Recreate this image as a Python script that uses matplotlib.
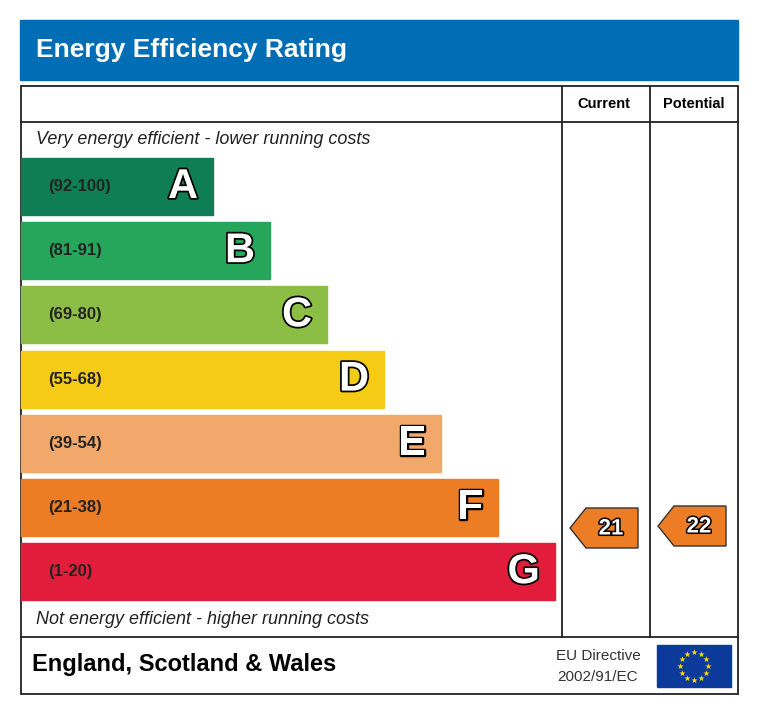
import numpy as np
import matplotlib
matplotlib.use("Agg")
import matplotlib.pyplot as plt
from matplotlib.patches import Rectangle, Polygon
import matplotlib.patheffects as pe

# band data
letters = ["A", "B", "C", "D", "E", "F", "G"]
ranges = ["(92-100)", "(81-91)", "(69-80)", "(55-68)", "(39-54)", "(21-38)", "(1-20)"]
band_lo = [92, 81, 69, 55, 39, 21, 1]
colors = ["#0f7e56", "#26a65b", "#8cbd45", "#f5cb16", "#f2a86a", "#ec7d25", "#e21d3c"]
current = 21
potential = 22

fig = plt.figure(figsize=(7.6, 7.15), dpi=100)
ax = fig.add_axes([0, 0, 1, 1])
ax.set_xlim(0, 760)
ax.set_ylim(715, 0)
ax.axis("off")

# title bar
ax.add_patch(Rectangle((20, 20), 718, 60, color="#006db5"))
ax.text(36, 50, "Energy Efficiency Rating", color="white", fontsize=19,
        fontweight="bold", va="center", family="Liberation Sans")

# frame
lw = 1.3
ax.add_patch(Rectangle((21, 86), 717, 608, fill=False, lw=lw, ec="#222"))
ax.plot([21, 738], [122, 122], color="#222", lw=lw)
ax.plot([21, 738], [637, 637], color="#222", lw=lw)
ax.plot([562, 562], [86, 637], color="#222", lw=lw)
ax.plot([650, 650], [86, 637], color="#222", lw=lw)
ax.text(604, 104, "Current", ha="center", va="center", fontsize=10.5,
        fontweight="bold", family="Liberation Sans")
ax.text(694, 104, "Potential", ha="center", va="center", fontsize=10.5,
        fontweight="bold", family="Liberation Sans")

ax.text(36, 140, "Very energy efficient - lower running costs", fontsize=13,
        style="italic", va="center", family="Liberation Sans", color="#222")
ax.text(36, 619, "Not energy efficient - higher running costs", fontsize=13,
        style="italic", va="center", family="Liberation Sans", color="#222")

band_top = []
for i, (let, rng, col) in enumerate(zip(letters, ranges, colors)):
    top = 158 + i * 64.2
    right = 213 + i * 57
    band_top.append(top)
    ax.add_patch(Rectangle((21, top), right - 21, 57, color=col))
    ax.text(48, top + 28.5, rng, fontsize=12, fontweight="bold", va="center",
            family="Liberation Sans", color="#222")
    ax.text(right - 15, top + 29, let, fontsize=30, fontweight="bold",
            ha="right", va="center", color="white", family="Liberation Sans",
            path_effects=[pe.withStroke(linewidth=2.5, foreground="black")])


def band_index(v):
    for i, lo in enumerate(band_lo):
        if v >= lo:
            return i
    return len(band_lo) - 1


def arrow(x0, y0, val):
    col = colors[band_index(val)]
    pts = [(x0, y0 + 20), (x0 + 16, y0), (x0 + 68, y0), (x0 + 68, y0 + 40),
           (x0 + 16, y0 + 40)]
    ax.add_patch(Polygon(pts, closed=True, fc=col, ec="#333", lw=1))
    ax.text(x0 + 41, y0 + 21, str(val), fontsize=16, fontweight="bold",
            ha="center", va="center", color="white", family="Liberation Sans",
            path_effects=[pe.withStroke(linewidth=2.2, foreground="black")])


arrow(570, 508, current)
arrow(658, 506, potential)

# footer
ax.text(32, 665, "England, Scotland & Wales", fontsize=17, fontweight="bold",
        va="center", family="Liberation Sans")
ax.text(598, 656, "EU Directive", fontsize=11, ha="center", va="center",
        family="Liberation Sans", color="#333")
ax.text(598, 677, "2002/91/EC", fontsize=11, ha="center", va="center",
        family="Liberation Sans", color="#333")
ax.add_patch(Rectangle((657, 645), 74, 42, color="#0b3a9a"))
ang = np.linspace(0, 2 * np.pi, 13)[:-1]
ax.scatter(694 + 14 * np.cos(ang), 666 + 14 * np.sin(ang), marker="*",
           s=22, color="#ffdd00", linewidths=0)

fig.savefig("out.png", dpi=100)
